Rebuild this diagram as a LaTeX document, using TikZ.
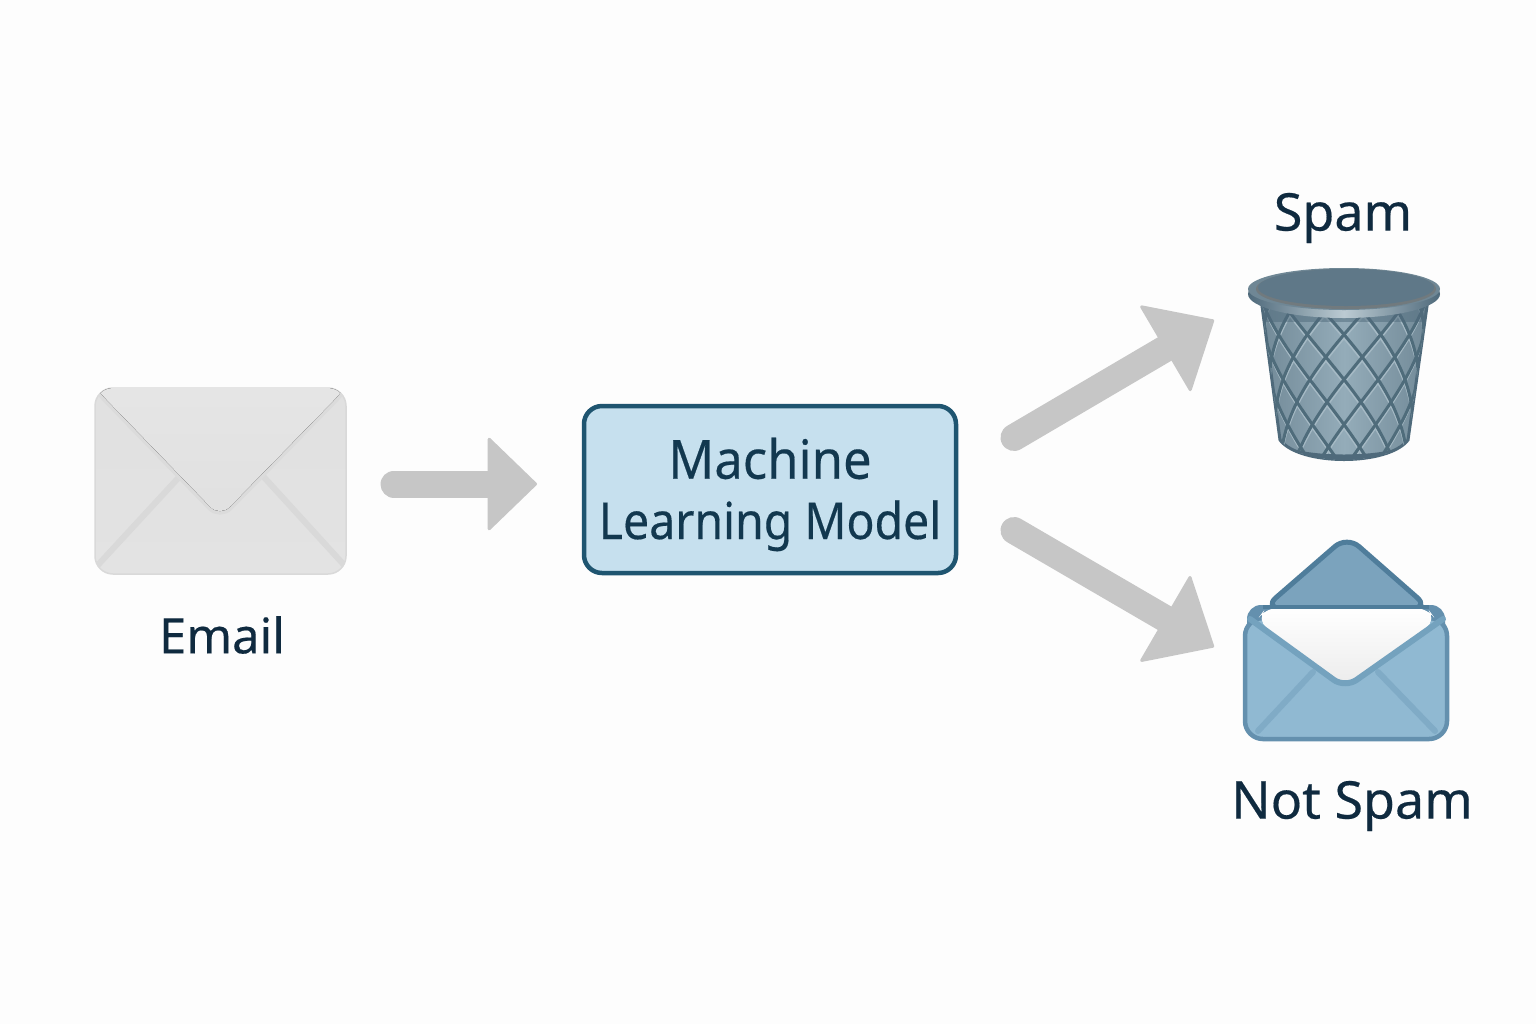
\documentclass[tikz,border=0pt]{standalone}
\usepackage{fontspec}
\setmainfont{Noto Sans}[FakeBold=0.35]
\newfontface\labelfont{Noto Sans}[FakeBold=0.35]
\usetikzlibrary{arrows.meta,shadings}
\def\px{0.5pt}
\definecolor{bgc}{HTML}{FDFDFD}
\definecolor{ink}{HTML}{0F2A3F}
\definecolor{inkb}{HTML}{12384F}
\definecolor{flowc}{HTML}{C6C6C6}
\definecolor{modelfill}{HTML}{C6E0EE}
\definecolor{modeledge}{HTML}{1F5570}
\definecolor{meshc}{HTML}{4F6C7B}
\definecolor{meshhi}{HTML}{A6BAC5}
\definecolor{binlo}{HTML}{728A98}
\definecolor{binhi}{HTML}{94ACB9}
\definecolor{rimd}{HTML}{4F6A7B}
\definecolor{rimm}{HTML}{6F8795}
\definecolor{riml}{HTML}{BCCBD3}
\definecolor{lidc}{HTML}{5F7888}
\definecolor{envbody}{HTML}{90B9D2}
\definecolor{envedge}{HTML}{6490AE}
\definecolor{envvee}{HTML}{74A2BE}
\definecolor{envdark}{HTML}{4F7D9B}
\definecolor{envflap}{HTML}{7BA3BD}
\definecolor{envcrease}{HTML}{80ABC6}
\tikzset{
  x=0.5pt,y=-0.5pt,
  label text/.style={font=\labelfont\fontsize{26}{30}\selectfont,text=ink,inner sep=0pt,anchor=center},
  flow/.style={draw=flowc,line width=27*\px,line cap=round,
    -{Triangle[length=58*\px,width=102*\px,line width=3*\px,round,color=flowc]}},
  flow short/.style={flow,
    -{Triangle[length=50*\px,width=96*\px,line width=3*\px,round,color=flowc]}},
  icon box/.style={rectangle,inner sep=0pt,outer sep=0pt},
  crease/.style={line width=6*\px,line cap=round},
}
\newcommand{\meshlines}[3]{% colour, width, vertical offset
  \foreach \k in {-9,...,8}{
    \draw[#1,line width=#2*\px] plot[domain=295:470,samples=45]
      ({1344+(84-(\x-310)*0.125)*sin(max(-90,min(90,(\k+0.5)*27+(\x-357-#3)*0.6)))},{\x});
    \draw[#1,line width=#2*\px] plot[domain=295:470,samples=45]
      ({1344+(84-(\x-310)*0.125)*sin(max(-90,min(90,(\k+0.5)*27-(\x-357-#3)*0.6)))},{\x});
  }}
\begin{document}
\begin{tikzpicture}
\useasboundingbox (0,0) rectangle (1536,1024);
\fill[bgc] (0,0) rectangle (1536,1024);

% --- incoming email
\node[icon box,minimum width=251*\px,minimum height=186*\px,rounded corners=18*\px,
      draw=black!15,line width=1.5*\px,top color=black!12,bottom color=black!11] (email) at (220.5,481) {};
\begin{scope}
  \clip[rounded corners=18*\px] (95,388) rectangle (346,574);
  \draw[crease,black!15] (181,475) -- (97,566);
  \draw[crease,black!15] (262,475) -- (345,566);
  \fill[black!14,draw=black!14,line width=7*\px,rounded corners=14*\px]
     (90,380) -- (98,391) -- (220,517) -- (343,391) -- (350,380) -- cycle;
  \fill[top color=black!10,bottom color=black!12,rounded corners=14*\px]
     (90,380) -- (98,391) -- (220,517) -- (343,391) -- (350,380) -- cycle;
\end{scope}
\node[label text,font=\labelfont\fontsize{24.5}{30}\selectfont] (emaillabel) at (222,635) {Email};

% --- model
\node[icon box,minimum width=372*\px,minimum height=167*\px,rounded corners=18*\px,
      draw=modeledge,fill=modelfill,line width=4.5*\px,align=center,text=inkb] (model) at (770,489.5)
      {\labelfont\fontsize{27}{30}\selectfont\rule{0pt}{25.5pt}\scalebox{0.94}[1]{Machine}\\[9.5pt]
       \labelfont\fontsize{25.5}{30}\selectfont\scalebox{0.91}[1]{Learning Model}};

% --- spam bin
\node[icon box,minimum width=192*\px,minimum height=192*\px] (bin) at (1344,364) {};
\path[draw=rimd,line width=3*\px,left color=binlo,right color=binlo,middle color=binhi]
   (1262,306) -- (1280,440) .. controls (1300,466) and (1388,466) .. (1408,440) -- (1427,306) -- cycle;
\begin{scope}
  \clip (1262,306) -- (1280,440) .. controls (1300,466) and (1388,466) .. (1408,440) -- (1427,306) -- cycle;
  \meshlines{meshhi}{1.5}{4}
  \meshlines{meshc}{3}{0}
  \fill[rimd] (1270,441) .. controls (1300,459) and (1388,459) .. (1418,441) -- (1418,470) -- (1270,470) -- cycle;
  \fill[rimd,opacity=.5] (1255,300) rectangle (1435,322);
\end{scope}
\shade[left color=rimd,right color=rimd,middle color=riml] (1344,294) ellipse [x radius=96,y radius=24];
\fill[rimm] (1344,289) ellipse [x radius=96,y radius=21];
\fill[black!40!riml] (1346,289) ellipse [x radius=90,y radius=20];
\fill[lidc] (1346,287.5) ellipse [x radius=88,y radius=18.5];
\node[label text] (spamlabel) at (1343,218) {Spam};

% --- not spam envelope
\node[icon box,minimum width=202*\px,minimum height=200*\px] (mail) at (1346,640) {};
\fill[envflap,draw=envdark,line width=5*\px,line join=round,rounded corners=16*\px]
   (1264,608) -- (1347,536) -- (1429,608) -- cycle;
\fill[envedge,rounded corners=14*\px] (1247,605) rectangle (1445,660);
\path[fill=envbody,draw=envedge,line width=4.5*\px,rounded corners=18*\px]
   (1245,618) rectangle (1447,739);
\draw[crease,envcrease] (1313,672) -- (1258,731);
\draw[crease,envcrease] (1378,672) -- (1435,731);
\fill[bgc,top color=white,bottom color=black!8,rounded corners=12*\px]
   (1257,620) -- (1266,608) -- (1427,608) -- (1436,620) -- (1345,689) -- cycle;
\draw[envvee,line width=6*\px,rounded corners=14*\px,line cap=round]
   (1250,619) -- (1345,688) -- (1443,619);
\draw[envdark,line width=4*\px] (1263,607) -- (1429,607);
\node[label text] (hamlabel) at (1352,806) {Not Spam};

% --- connectors
\draw[flow short] ([shift={(48,3)}]email.east) -- ([shift={(-47,-5.5)}]model.west);
\draw[flow] ([shift={(58,-52)}]model.east) -- ([shift={(-34,-44)}]bin.west);
\draw[flow] ([shift={(58,41)}]model.east) -- ([shift={(-31,7)}]mail.west);
\end{tikzpicture}
\end{document}
